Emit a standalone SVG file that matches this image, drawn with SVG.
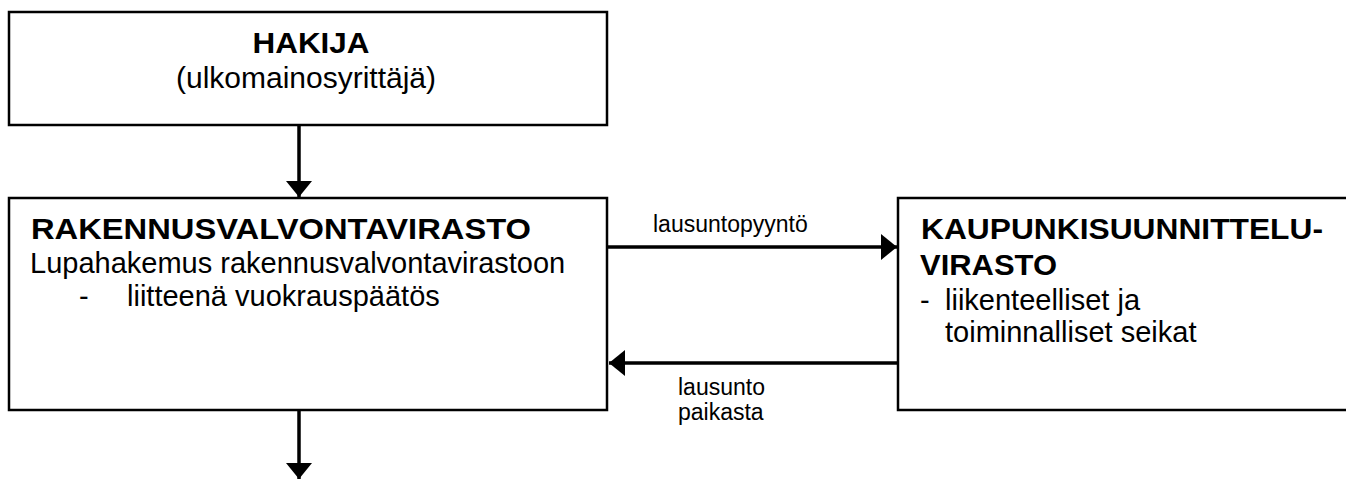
<svg xmlns="http://www.w3.org/2000/svg" width="1346" height="479" viewBox="0 0 1346 479">
<defs>
<style>
.box{fill:#fff;stroke:#000;stroke-width:2.5}
.b{font-family:"Liberation Sans",Arial,sans-serif;font-weight:bold;font-size:30px;fill:#000}
.r{font-family:"Liberation Sans",Arial,sans-serif;font-size:29px;fill:#000}
.s{font-family:"Liberation Sans",Arial,sans-serif;font-size:23px;fill:#000}
.ln{stroke:#000;stroke-width:3.5;fill:none}
</style>
<marker id="ah" viewBox="0 0 16 26" refX="16" refY="13" markerWidth="16" markerHeight="26" markerUnits="userSpaceOnUse" orient="auto">
<path d="M0,0 L16,13 L0,26 Z" fill="#000"/>
</marker>
</defs>
<rect width="1346" height="479" fill="#fff"/>
<g id="hakija">
<rect class="box" x="9" y="12" width="598" height="113"/>
<text class="b" x="311" y="53" text-anchor="middle" textLength="117" lengthAdjust="spacingAndGlyphs">HAKIJA</text>
<text class="r" x="306" y="88" text-anchor="middle" style="font-size:30px">(ulkomainosyrittäjä)</text>
</g>
<g id="rakennusvalvontavirasto">
<rect class="box" x="9" y="198" width="598" height="212"/>
<text class="b" x="31" y="239" textLength="500" lengthAdjust="spacingAndGlyphs">RAKENNUSVALVONTAVIRASTO</text>
<text class="r" x="30" y="273">Lupahakemus rakennusvalvontavirastoon</text>
<text class="r" x="79" y="306">-</text>
<text class="r" x="127" y="306">liitteenä vuokrauspäätös</text>
</g>
<g id="kaupunkisuunnitteluvirasto">
<rect class="box" x="898" y="198" width="460" height="212"/>
<text class="b" x="921" y="239" textLength="402" lengthAdjust="spacingAndGlyphs">KAUPUNKISUUNNITTELU-</text>
<text class="b" x="920" y="275" textLength="137" lengthAdjust="spacingAndGlyphs">VIRASTO</text>
<text class="r" x="920" y="310">-</text>
<text class="r" x="945" y="310">liikenteelliset ja</text>
<text class="r" x="945" y="342">toiminnalliset seikat</text>
</g>
<g id="connectors">
<line class="ln" x1="299" y1="125" x2="299" y2="197" marker-end="url(#ah)"/>
<line class="ln" x1="299" y1="410" x2="299" y2="479" marker-end="url(#ah)"/>
<line class="ln" x1="608" y1="247" x2="897" y2="247" marker-end="url(#ah)"/>
<line class="ln" x1="897" y1="363" x2="609" y2="363" marker-end="url(#ah)"/>
<text class="s" x="653" y="232">lausuntopyyntö</text>
<text class="s" x="678" y="395">lausunto</text>
<text class="s" x="678" y="420">paikasta</text>
</g>
</svg>
